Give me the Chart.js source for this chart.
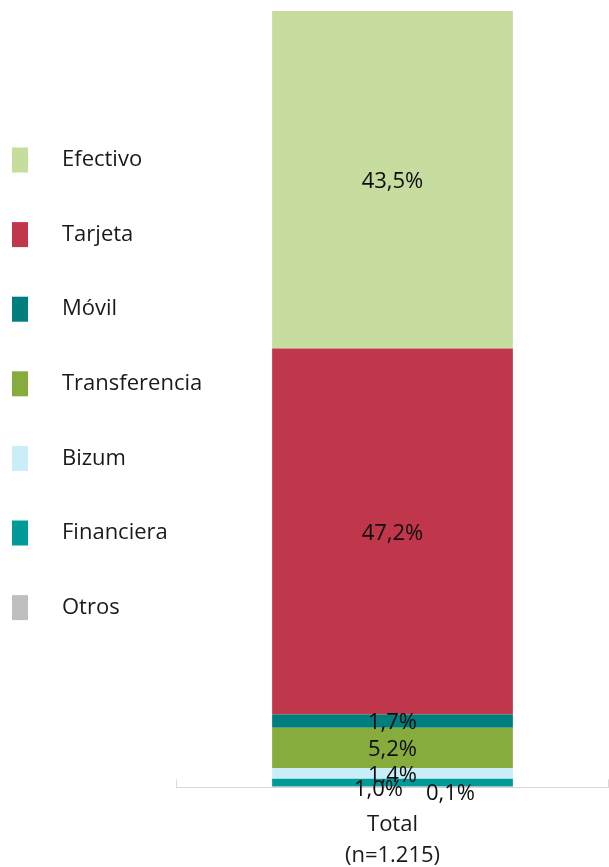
<!DOCTYPE html>
<html>
<head>
<meta charset="utf-8">
<script src="https://cdn.jsdelivr.net/npm/chart.js@4.4.1/dist/chart.umd.min.js"></script>
<style>
  html, body { margin: 0; padding: 0; background: #fff; }
  #wrap { width: 609px; height: 867px; position: relative; }
</style>
</head>
<body>
<div id="wrap"><canvas id="paymentChart"></canvas></div>
<script>
// Payment method shares (legend order, top of the stack first)
const seriesNames = ['Efectivo', 'Tarjeta', 'Móvil', 'Transferencia', 'Bizum', 'Financiera', 'Otros'];
const seriesValues = [43.5, 47.2, 1.7, 5.2, 1.4, 1.0, 0.1];
const seriesColors = ['#c7dd9f', '#c0364b', '#007d7d', '#87ac3e', '#c9eef7', '#009a98', '#bfbfbf'];
const categories = [['Total', '(n=1.215)']];

const FONT = '"Open Sans", "Noto Sans", sans-serif';
const total = seriesValues.reduce((a, b) => a + b, 0);

// small segments at the bottom have their labels nudged so they don't collide
const labelNudge = {
    'Financiera': { dx: -14, dy: 5 },
    'Otros': { dx: 58, dy: 5 }
};

const fmt = v => v.toFixed(1).replace('.', ',') + '%';

// stack from the bottom up: last legend entry goes first
const datasets = seriesNames.map((name, i) => ({
    label: name,
    data: [seriesValues[i]],
    backgroundColor: seriesColors[i],
    borderWidth: 0
})).reverse();

const valueLabels = {
    id: 'valueLabels',
    afterDatasetsDraw(chart) {
        const ctx = chart.ctx;
        ctx.save();
        ctx.font = '22px ' + FONT;
        ctx.fillStyle = '#0d0d0d';
        ctx.textAlign = 'center';
        ctx.textBaseline = 'middle';
        chart.data.datasets.forEach((ds, di) => {
            const bar = chart.getDatasetMeta(di).data[0];
            const nudge = labelNudge[ds.label] || { dx: 0, dy: 0 };
            const cy = (bar.y + bar.base) / 2 + 2;
            ctx.fillText(fmt(ds.data[0]), bar.x + nudge.dx, cy + nudge.dy);
        });
        ctx.restore();
    }
};

const sideLegend = {
    id: 'sideLegend',
    afterDraw(chart) {
        const ctx = chart.ctx;
        const area = chart.chartArea;
        ctx.save();
        // category boundary ticks on the axis
        ctx.strokeStyle = '#d9d9d9';
        ctx.lineWidth = 1;
        [area.left + 0.5, area.right - 0.5].forEach(x => {
            ctx.beginPath();
            ctx.moveTo(x, area.bottom);
            ctx.lineTo(x, area.bottom - 8);
            ctx.stroke();
        });
        ctx.font = '22px ' + FONT;
        ctx.textAlign = 'left';
        ctx.textBaseline = 'middle';
        seriesNames.forEach((name, i) => {
            const cy = 160 + i * 74.6;
            ctx.fillStyle = seriesColors[i];
            ctx.fillRect(12, cy - 12.5, 16, 25);
            ctx.fillStyle = '#1a1a1a';
            ctx.fillText(name, 62, cy);
        });
        ctx.restore();
    }
};

new Chart(document.getElementById('paymentChart').getContext('2d'), {
    type: 'bar',
    data: {
        labels: categories,
        datasets: datasets
    },
    options: {
        responsive: true,
        maintainAspectRatio: false,
        animation: false,
        events: [],
        layout: {
            padding: { left: 176, top: 11, right: 0, bottom: -26 }
        },
        datasets: {
            bar: { barPercentage: 1, categoryPercentage: 0.556 }
        },
        plugins: {
            legend: { display: false },
            tooltip: { enabled: false }
        },
        scales: {
            x: {
                stacked: true,
                grid: { display: false, drawTicks: false },
                border: { display: true, color: '#d9d9d9', width: 1 },
                ticks: {
                    padding: 22,
                    color: '#1a1a1a',
                    font: { family: FONT, size: 22, lineHeight: 1.4 }
                }
            },
            y: {
                stacked: true,
                display: false,
                min: 0,
                max: total
            }
        }
    },
    plugins: [valueLabels, sideLegend]
});
</script>
</body>
</html>
